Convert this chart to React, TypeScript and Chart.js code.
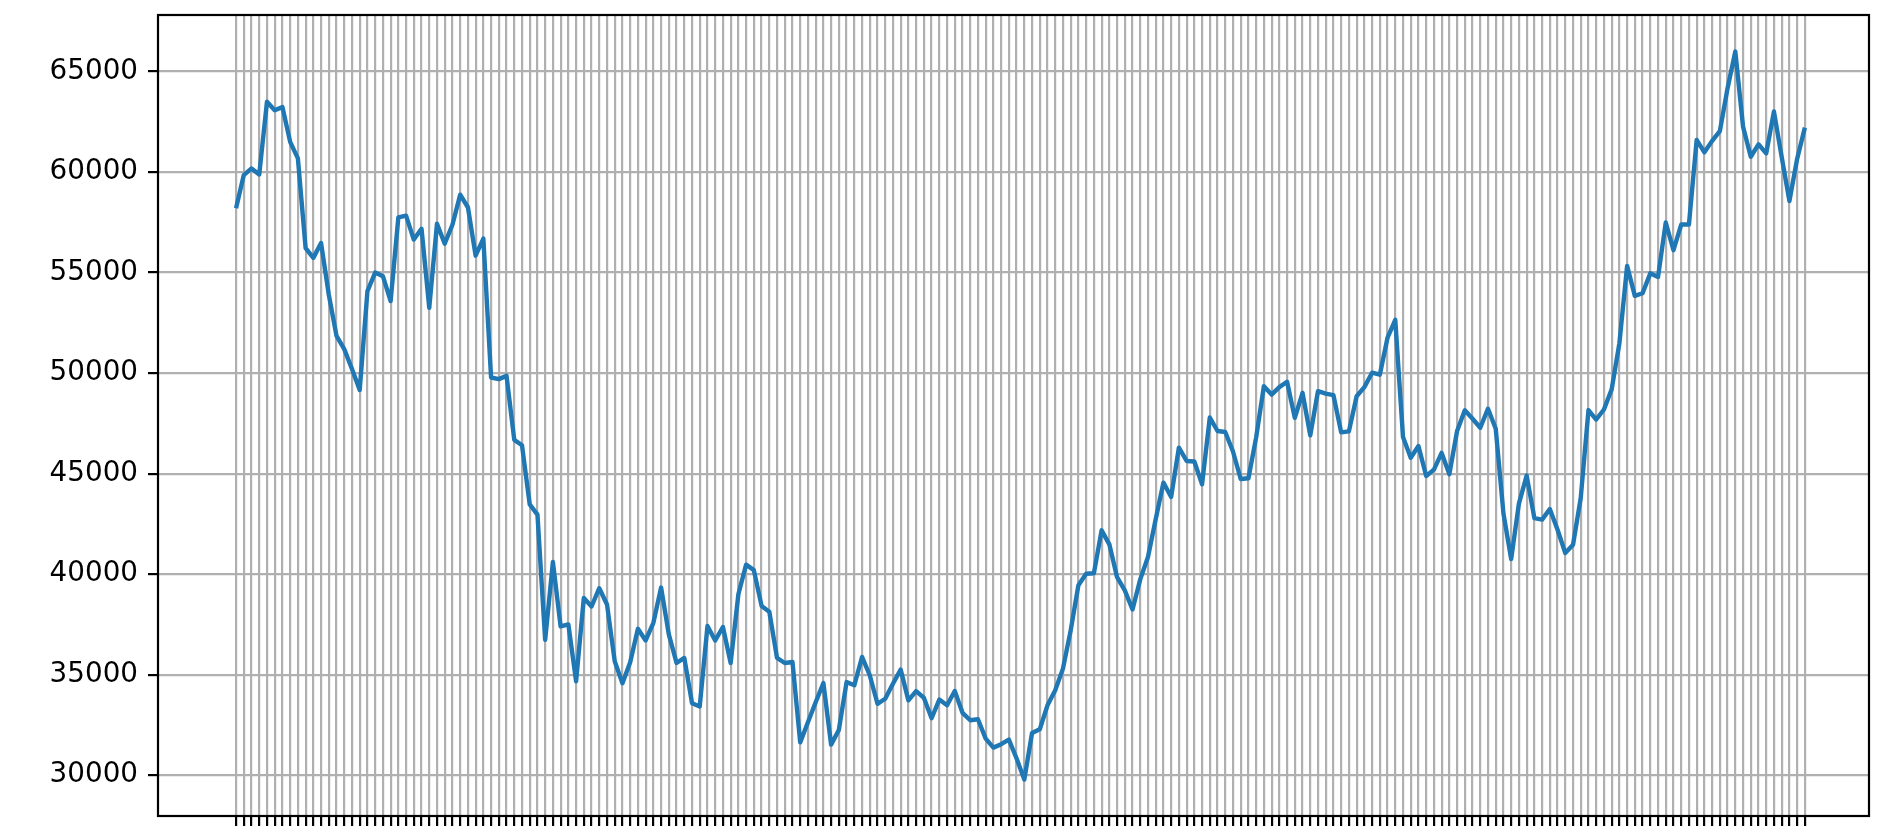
import React, { useEffect, useRef } from 'react';
import { Chart, registerables } from 'chart.js';

Chart.register(...registerables);

// Series values, one per period (204 points)
const values: number[] = [
  58200, 59850, 60180, 59880, 63500, 63070, 63230, 61500, 60680, 56220,
  55730, 56470, 53900, 51850, 51190, 50200, 49160, 54080, 55000, 54820,
  53580, 57740, 57830, 56640, 57180, 53250, 57430, 56440, 57380, 58870,
  58250, 55840, 56690, 49780, 49700, 49860, 46680, 46410, 43470, 42960,
  36730, 40600, 37400, 37500, 34670, 38810, 38390, 39300, 38490, 35670,
  34570, 35620, 37280, 36700, 37580, 39330, 37000, 35580, 35830, 33580,
  33420, 37420, 36700, 37370, 35580, 39000, 40470, 40200, 38420, 38130,
  35830, 35580, 35630, 31630, 32630, 33630, 34580, 31520, 32250, 34630,
  34470, 35880, 34970, 33550, 33800, 34550, 35250, 33720, 34180, 33850,
  32830, 33760, 33480, 34190, 33100, 32730, 32780, 31820, 31370, 31540,
  31770, 30830, 29780, 32100, 32280, 33480, 34220, 35300, 37200, 39450,
  40020, 40040, 42180, 41480, 39850, 39190, 38240, 39740, 40850, 42730,
  44550, 43840, 46290, 45630, 45600, 44470, 47790, 47120, 47070, 46100,
  44730, 44770, 46800, 49350, 48930, 49300, 49570, 47770, 49020, 46900,
  49100, 48980, 48900, 47050, 47100, 48850, 49300, 50020, 49920, 51760,
  52650, 46820, 45790, 46370, 44880, 45200, 46030, 44970, 47120, 48150,
  47730, 47280, 48230, 47230, 43010, 40750, 43510, 44900, 42790, 42710,
  43240, 42210, 41050, 41460, 43790, 48160, 47690, 48190, 49190, 51480,
  55330, 53840, 53970, 54960, 54780, 57490, 56110, 57390, 57390, 61600,
  60980, 61550, 62040, 64170, 66000, 62260, 60760, 61380, 60930, 63010,
  60760, 58560, 60650, 62210,
];

// Category positions (one tick per period, unlabeled)
const xPositions: number[] = values.map((_, i) => i);

// Y tick labels
const yTickValues: number[] = [30000, 35000, 40000, 45000, 50000, 55000, 60000, 65000];

export default function App() {
  const ref = useRef<HTMLCanvasElement>(null);

  useEffect(() => {
    document.body.style.margin = '0';
    const ymin = Math.min(...values);
    const ymax = Math.max(...values);
    const yr = ymax - ymin;
    const n = values.length - 1;

    const spines = {
      id: 'spines',
      afterDatasetsDraw(chart: any) {
        const { ctx, chartArea: a } = chart;
        ctx.save();
        ctx.strokeStyle = '#000';
        ctx.lineWidth = 2.2;
        ctx.strokeRect(a.left, a.top, a.right - a.left, a.bottom - a.top);
        ctx.restore();
      },
    };

    const chart = new Chart(ref.current as HTMLCanvasElement, {
      type: 'line',
      data: {
        datasets: [
          {
            data: values.map((v, i) => ({ x: xPositions[i], y: v })),
            borderColor: '#1f77b4',
            borderWidth: 4.4,
            borderJoinStyle: 'round',
            pointRadius: 0,
            tension: 0,
            fill: false,
          },
        ],
      },
      options: {
        animation: false,
        responsive: false,
        plugins: { legend: { display: false }, tooltip: { enabled: false } },
        layout: { padding: { top: 15, right: 23, bottom: 0, left: 0 } },
        scales: {
          x: {
            type: 'linear',
            min: -10.1,
            max: n + 8.3,
            afterBuildTicks: (s: any) => {
              s.ticks = xPositions.map((v) => ({ value: v }));
            },
            afterFit: (s: any) => {
              s.height = 22;
              s.paddingLeft = 0;
              s.paddingRight = 0;
            },
            ticks: { display: false, autoSkip: false },
            grid: {
              color: '#b0b0b0',
              lineWidth: 2.2,
              tickColor: '#000',
              tickLength: 10,
              tickWidth: 2.2,
            },
            border: { display: false },
          },
          y: {
            type: 'linear',
            min: ymin - 0.05 * yr,
            max: ymax + 0.05 * yr,
            afterBuildTicks: (s: any) => {
              s.ticks = yTickValues.map((v) => ({ value: v }));
            },
            afterFit: (s: any) => {
              s.width = 158;
              s.paddingTop = 0;
              s.paddingBottom = 0;
            },
            ticks: {
              color: '#000',
              font: { family: 'DejaVu Sans', size: 27.8 },
              padding: 10,
              callback: (v: any) => String(v),
            },
            grid: {
              color: '#b0b0b0',
              lineWidth: 2.2,
              tickColor: '#000',
              tickLength: 10,
              tickWidth: 2.2,
            },
            border: { display: false },
          },
        },
      },
      plugins: [spines],
    });
    return () => chart.destroy();
  }, []);

  return (
    <div style={{ position: 'absolute', left: 0, top: 0, width: 1892, height: 838 }}>
      <canvas ref={ref} width={1892} height={838} style={{ display: 'block' }} />
    </div>
  );
}
